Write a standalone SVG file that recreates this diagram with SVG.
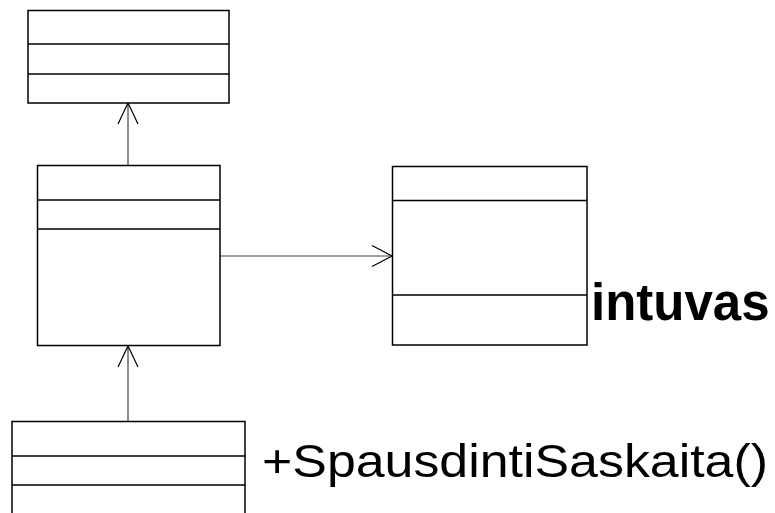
<svg xmlns="http://www.w3.org/2000/svg" width="775" height="513" viewBox="0 0 775 513">
<style>
.box{fill:#fff;stroke:#000;stroke-width:1.5}
.div{stroke:#000;stroke-width:1.5}
.conn{stroke:#444;stroke-width:1.2;fill:none}
.head{stroke:#000;stroke-width:1.2;fill:none}
.t{font-family:"Liberation Sans",Arial,sans-serif;fill:#000}
</style>
<rect width="775" height="513" fill="#fff"/>
<g id="connectors">
<line class="conn" x1="128" y1="165" x2="128" y2="103"/>
<polyline class="head" points="118,124 128,103 138,124"/>
<line class="conn" x1="220" y1="256" x2="392" y2="256"/>
<polyline class="head" points="372,245.5 392,256 372,266.5"/>
<line class="conn" x1="128" y1="422" x2="128" y2="346"/>
<polyline class="head" points="118,367 128,346 138,367"/>
</g>
<g id="node-top">
<rect class="box" x="28" y="10.5" width="201" height="92.5"/>
<line class="div" x1="28" y1="44" x2="229" y2="44"/>
<line class="div" x1="28" y1="74" x2="229" y2="74"/>
</g>
<g id="node-middle">
<rect class="box" x="37.5" y="165.5" width="182.5" height="180"/>
<line class="div" x1="37.5" y1="200" x2="220" y2="200"/>
<line class="div" x1="37.5" y1="229" x2="220" y2="229"/>
</g>
<g id="node-right">
<rect class="box" x="392.5" y="166.5" width="194.5" height="178.5"/>
<line class="div" x1="392.5" y1="200.5" x2="587" y2="200.5"/>
<line class="div" x1="392.5" y1="295" x2="587" y2="295"/>
<text class="t" x="591" y="320" font-size="51" font-weight="bold">intuvas</text>
</g>
<g id="node-bottom">
<rect class="box" x="12" y="421.5" width="233" height="100"/>
<line class="div" x1="12" y1="456" x2="245" y2="456"/>
<line class="div" x1="12" y1="485" x2="245" y2="485"/>
<text class="t" x="262" y="477" font-size="46.5" textLength="506" lengthAdjust="spacingAndGlyphs">+SpausdintiSaskaita()</text>
</g>
</svg>
